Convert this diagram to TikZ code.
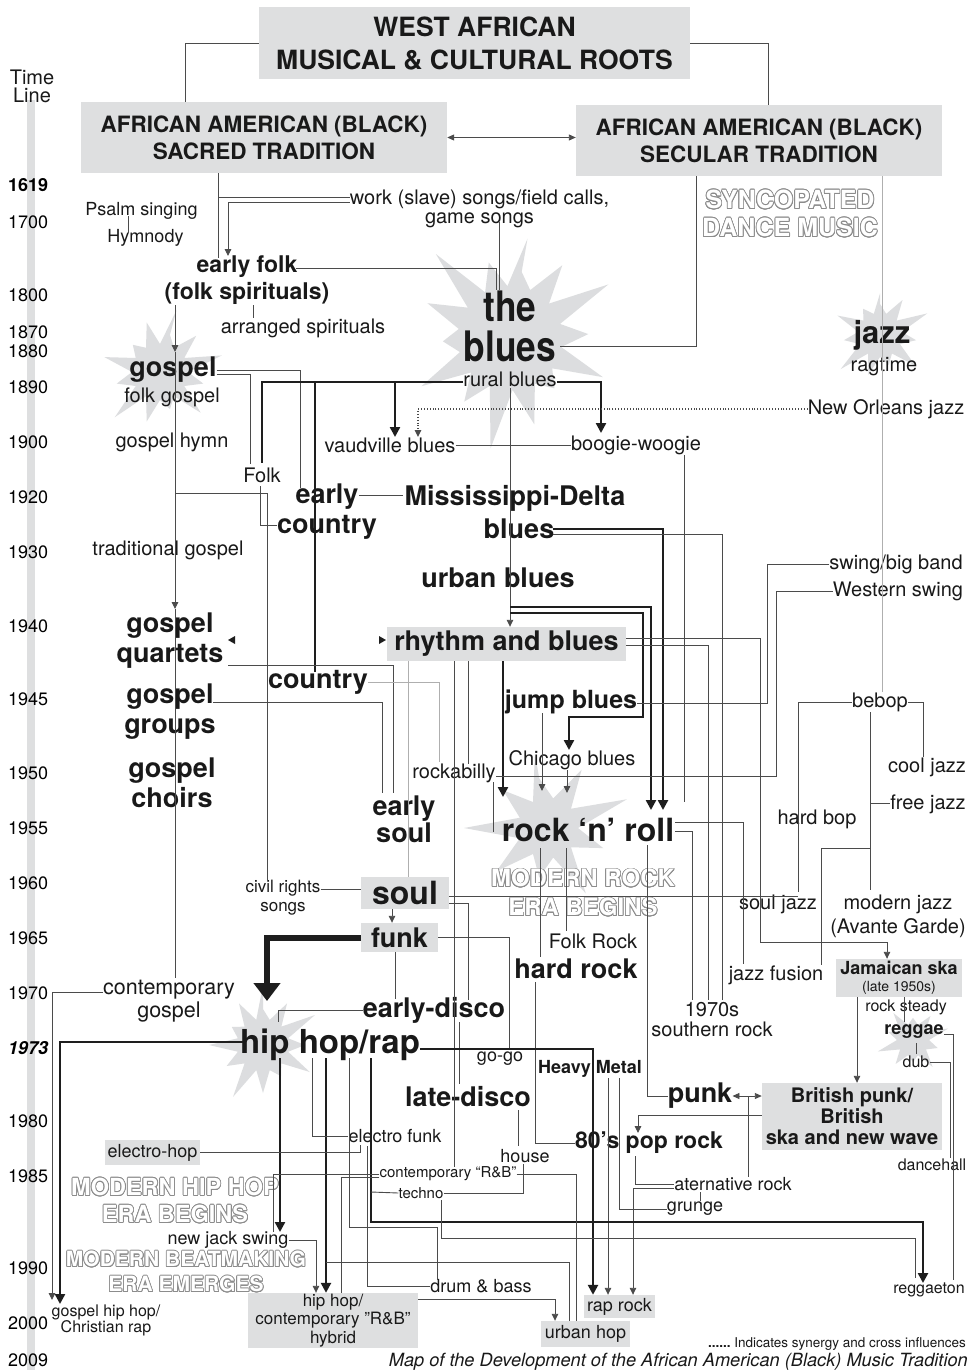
\documentclass[tikz,border=0pt]{standalone}
\usepackage{fontspec}
\setmainfont{TeX Gyre Heros}
\usepackage{contour}
\contourlength{0.8pt}
\usetikzlibrary{arrows.meta}
\definecolor{boxc}{RGB}{222,223,224}
\definecolor{burstc}{RGB}{220,221,223}
\definecolor{lnc}{RGB}{75,75,75}
\definecolor{lnl}{RGB}{175,175,175}
\definecolor{dk}{RGB}{30,30,30}
\newcommand\outtxt[1]{\contour{black!45}{\textcolor{white}{#1}}}
\newcommand\burst[6]{\fill[burstc] ({#1+0.6*#4*cos(#6)},{#2+0.6*#4*sin(#6)})
 \foreach \i in {1,...,#5}{ -- ({#1+#3*cos((\i-0.5)*360/#5+#6)},{#2+#3*sin((\i-0.5)*360/#5+#6)})
 -- ({#1+#4*(0.6+0.1*mod(\i*7,5))*cos(\i*360/#5+#6)},{#2+#4*(0.6+0.1*mod(\i*7,5))*sin(\i*360/#5+#6)})} -- cycle;}
\begin{document}
\begin{tikzpicture}[x=1pt,y=-1pt,
 tx/.style={inner sep=0pt, align=center, text=black!90},
 r20/.style={tx, font=\fontsize{20}{21}\selectfont},
 r18/.style={tx, font=\fontsize{18}{19}\selectfont},
 r16/.style={tx, font=\fontsize{16}{17}\selectfont},
 r15/.style={tx, font=\fontsize{15}{16}\selectfont},
 b27/.style={tx, font=\bfseries\fontsize{27}{30}\selectfont},
 b18/.style={tx, font=\bfseries\fontsize{18}{19}\selectfont},
 yr/.style={inner sep=0pt, anchor=west, font=\fontsize{18}{18}\selectfont},
 box/.style={fill=boxc, inner sep=0pt, align=center, text=black!90},
 cn/.style={draw=lnc, line width=0.9pt},
 cl/.style={draw=lnl, line width=0.8pt},
 ck/.style={draw=dk, line width=2.4pt},
 ar/.style={-{Triangle[length=7pt,width=6.5pt]}},
 ark/.style={-{Triangle[length=10pt,width=10pt]}},
 outl/.style={inner sep=0pt, align=center},
]
\fill[white] (0,0) rectangle (972,1370);
\useasboundingbox (0,0) rectangle (972,1370);
\fill[boxc] (27,100) rectangle (35,1370);

% starbursts
\burst{510}{338}{52}{112}{14}{-80}
\burst{880}{335}{22}{52}{11}{-90}
\burst{160}{372}{28}{64}{12}{-75}
\burst{548}{828}{30}{84}{9}{-100}
\burst{263}{1045}{26}{60}{12}{-90}
\burst{913}{1040}{16}{37}{10}{-90}

% boxes
\node[box, minimum width=431pt, minimum height=72pt, font=\bfseries\fontsize{26.5}{33}\selectfont] (roots) at (474.5,43) {WEST AFRICAN\\MUSICAL \& CULTURAL ROOTS};
\node[box, minimum width=366pt, minimum height=71pt, font=\bfseries\fontsize{22.5}{27}\selectfont] (sacred) at (264,137.5) {AFRICAN AMERICAN (BLACK)\\SACRED TRADITION};
\node[box, minimum width=366pt, minimum height=71pt, font=\bfseries\fontsize{22.5}{27}\selectfont] (secular) at (759,140.5) {AFRICAN AMERICAN (BLACK)\\SECULAR TRADITION};
\node[box, minimum width=239pt, minimum height=34pt, font=\bfseries\fontsize{27}{30}\selectfont] (rnb) at (506.5,644) {rhythm and blues};
\node[box, minimum width=88pt, minimum height=32pt, font=\bfseries\fontsize{32}{34}\selectfont] (soul) at (405,893) {soul};
\node[box, minimum width=77pt, minimum height=29pt, font=\bfseries\fontsize{27}{30}\selectfont] (funk) at (399.5,937.5) {funk};
\node[box, minimum width=126pt, minimum height=38pt, font=\fontsize{18}{17}\selectfont] (ska) at (899,978) {{\bfseries Jamaican ska}\\{\fontsize{14}{17}\selectfont (late 1950s)}};
\node[box, minimum width=180pt, minimum height=67pt, font=\bfseries\fontsize{20}{21}\selectfont] (british) at (852,1116.5) {British punk/\\British\\ska and new wave};
\node[box, minimum width=95pt, minimum height=25pt, font=\fontsize{18}{19}\selectfont] (electrohop) at (152.5,1152.5) {electro-hop};
\node[box, minimum width=170pt, minimum height=55pt, font=\fontsize{17}{18.5}\selectfont] (hybrid) at (333,1320.5) {hip hop/\\contemporary ”R\&B”\\hybrid};
\node[box, minimum width=71pt, minimum height=23pt, font=\fontsize{18}{19}\selectfont] (raprock) at (619.5,1306.5) {rap rock};
\node[box, minimum width=89pt, minimum height=26pt, font=\fontsize{18}{19}\selectfont] (urbanhop) at (585.5,1334) {urban hop};

% outlined texts
\node[outl, font=\bfseries\fontsize{25}{28}\selectfont] (sync) at (790,214) {\outtxt{SYNCOPATED}\\\outtxt{DANCE MUSIC}};
\node[outl, font=\bfseries\fontsize{24}{29}\selectfont] (modrock) at (583,893) {\outtxt{MODERN ROCK}\\\outtxt{ERA BEGINS}};
\node[outl, font=\bfseries\fontsize{23.5}{27}\selectfont] (modhip) at (175,1201) {\outtxt{MODERN HIP HOP}\\\outtxt{ERA BEGINS}};
\node[outl, font=\bfseries\fontsize{21}{25}\selectfont] (modbeat) at (186,1272) {\outtxt{MODERN BEATMAKING}\\\outtxt{ERA EMERGES}};

% timeline
\node[tx, font=\fontsize{20}{18}\selectfont] (timel) at (32,86) {Time\\Line};
\node[yr, font=\bfseries\fontsize{18}{18}\selectfont] (yr1619) at (8,185) {1619};
\foreach \ya/\yb in {222/1700,295/1800,332/1870,351/1880,387/1890,442/1900,497/1920,552/1930,626/1940,699/1945,773/1950,828/1955,883/1960,938/1965,993/1970,1121/1980,1176/1985,1268/1990,1323/2000,1360/2009}
  \node[yr] (yr\yb) at (8,\ya) {\yb};
\node[yr, font=\bfseries\itshape\fontsize{18}{18}\selectfont] (yr1973) at (8,1048) {1973};

% text nodes
\node[r18] (psalm) at (141.5,211) {Psalm singing};
\node[r18] (hymn) at (145.5,238) {Hymnody};
\node[tx, font=\fontsize{20}{19}\selectfont] (work) at (479.5,209) {work (slave) songs/field calls,\\game songs};
\node[tx, font=\bfseries\fontsize{23}{27}\selectfont] (earlyfolk) at (247,280) {early folk\\(folk spirituals)};
\node[r20] (arranged) at (303,328) {arranged spirituals};
\node[tx, font=\bfseries\fontsize{42}{40}\selectfont] (blues) at (510,326) {\scalebox{0.84}[1]{the}\\\scalebox{0.84}[1]{blues}};
\node[tx, font=\bfseries\fontsize{31}{32}\selectfont] (jazz) at (882,335) {jazz};
\node[r20] (ragtime) at (884,367) {ragtime};
\node[b27] (gospel) at (173,370) {gospel};
\node[r20] (folkgospel) at (172,397) {folk gospel};
\node[r20] (rural) at (510,379) {rural blues};
\node[r20] (neworleans) at (886,409) {New Orleans jazz};
\node[r20] (vaud) at (390,445) {vaudville blues};
\node[r20] (boogie) at (636,445) {boogie-woogie};
\node[r20] (gospelhymn) at (172,442) {gospel hymn};
\node[r20] (folk) at (262,475) {Folk};
\node[b27] (earlycountry) at (327,512) {early\\country};
\node[tx, font=\bfseries\fontsize{27}{33}\selectfont] (miss) at (515,512) {Mississippi-Delta\\\hspace*{8pt}blues};
\node[r20] (tradgospel) at (168,550) {traditional gospel};
\node[b27] (urban) at (498,578) {urban blues};
\node[r20] (swing) at (896,564) {swing/big band};
\node[r20] (western) at (898,591) {Western swing};
\node[b27] (quartets) at (170,641) {gospel\\quartets};
\node[b27] (groups) at (170,712) {gospel\\groups};
\node[b27] (choirs) at (172,783) {gospel\\choirs};
\node[b27] (country) at (318,682) {country};
\node[tx, font=\bfseries\fontsize{25}{27}\selectfont] (jump) at (571,702) {jump blues};
\node[r20] (bebop) at (880,702) {bebop};
\node[r20] (chicago) at (572,760) {Chicago blues};
\node[r20] (rockabilly) at (454,773) {rockabilly};
\node[r20] (coolj) at (927,767) {cool jazz};
\node[r20] (freej) at (928,804) {free jazz};
\node[r20] (hardbop) at (817,819) {hard bop};
\node[tx, font=\bfseries\fontsize{27}{27}\selectfont] (earlysoul) at (404,819) {early\\soul};
\node[tx, font=\bfseries\fontsize{32}{32}\selectfont] (rocknroll) at (588,830) {rock ‘n’ roll};
\node[tx, font=\fontsize{17}{19}\selectfont] (civil) at (283,898) {civil rights\\songs};
\node[r20] (souljazz) at (778,904) {soul jazz};
\node[tx, font=\fontsize{20}{24}\selectfont] (modernj) at (898,916) {modern jazz\\(Avante Garde)};
\node[r20] (folkrock) at (593,941) {Folk Rock};
\node[b27] (hardrock) at (576,969) {hard rock};
\node[r20] (jazzfusion) at (776,975) {jazz fusion};
\node[tx, font=\fontsize{21.5}{23}\selectfont] (contgospel) at (169,1001) {contemporary\\gospel};
\node[b27] (earlydisco) at (434,1010) {early-disco};
\node[tx, font=\fontsize{20}{20}\selectfont] (seventies) at (712,1020) {1970s\\southern rock};
\node[r16] (rocksteady) at (906,1007) {rock steady};
\node[b18] (reggae) at (914,1032) {reggae};
\node[tx, font=\bfseries\fontsize{33}{34}\selectfont] (hiphop) at (330,1045) {hip hop/rap};
\node[r18] (gogo) at (500,1059) {go-go};
\node[b18] (heavymetal) at (590,1069) {Heavy Metal};
\node[r16] (dub) at (916,1062) {dub};
\node[b27] (latedisco) at (468,1097) {late-disco};
\node[b27] (punk) at (700,1096) {punk};
\node[r18] (electrofunk) at (395,1136) {electro funk};
\node[tx, font=\bfseries\fontsize{23}{25}\selectfont] (poprock) at (649,1143) {80’s pop rock};
\node[r18] (house) at (525,1156) {house};
\node[r16] (dancehall) at (932,1165) {dancehall};
\node[r15] (contrnb) at (448,1174) {contemporary “R\&B”};
\node[r18] (altrock) at (733,1184) {aternative rock};
\node[r15] (techno) at (421,1193) {techno};
\node[r18] (grunge) at (695,1209) {grunge};
\node[r18] (newjack) at (228,1240) {new jack swing};
\node[r18] (drumbass) at (481,1286) {drum \& bass};
\node[r16] (reggaeton) at (929,1290) {reggaeton};
\node[tx, font=\fontsize{16}{16}\selectfont] (gospelhiphop) at (106,1320) {gospel hip hop/\\Christian rap};
\node[tx, font=\fontsize{13.5}{14}\selectfont, anchor=east] (legend) at (966,1344) {{\bfseries ......}\ Indicates synergy and cross influences};
\node[tx, font=\itshape\fontsize{18.2}{18}\selectfont, anchor=east] (caption) at (968,1362) {Map of the Development of the African American (Black) Music Tradition};

% small cross-influence marks
\fill[dk] (379,636) -- (386,640) -- (379,644) -- cycle;
\fill[dk] (235,636) -- (228,640) -- (235,644) -- cycle;

% ---------- connectors ----------
\draw[cn] (roots.west) -| (sacred.north -| 185,0);
\draw[cn] (roots.east) -| (secular.north -| 768,0);
\draw[cn,{Triangle[length=7pt,width=6pt]}-{Triangle[length=7pt,width=6pt]}] (sacred.east) -- (sacred.east -| secular.west);
\draw[cn] (sacred.south -| 218,0) -- (218,258);
\draw[cn] (218,197) -- (work.west |- 0,197);
\draw[cn,ar] (work.west |- 0,202) -| (228,256);
\draw[cn] (499,222) -- (499,290);
\draw[cn] (296,268) -| (496,290);
\draw[cn] (secular.south -| 696,0) |- (560,346);
\draw[cl] (secular.south -| 882,0) -- (bebop.north -| 882,0);
\draw[cn] (128,216) -- (128,233);
\draw[cn] (253,305) -- (253,318);
% gospel trunk
\draw[cn,ar] (175,305) -- (175,352);
\draw[cn,ar] (175,352) -- (175,609);
\draw[cn] (175,609) -- (175,978);
\draw[cn] (175,493) -| (267,880);
\draw[cn] (gospel.east) -| (300,488);
\draw[cn] (gospel.east |- 0,374) -| (250,464);
\draw[cn] (260,486) |- (277,525);
% rural blues
\draw[ck] (rural.west |- 0,382) -| (262,463);
\draw[ck] (315,382) -- (315,672);
\draw[ck,ark] (395,382) -- (395,437);
\draw[ck,ark] (rural.east |- 0,382) -| (601,433);
\draw[cn,ar] (510,388) -- (rnb.north -| 510,0);
\draw[cn,dotted,line width=1.4pt,ar] (neworleans.west) -| (418,437);
\draw[cn] (vaud.east) -- (boogie.west);
\draw[cn] (684,455) -- (684,802);
\draw[cn] (359,495) -- (403,495);
% Mississippi-Delta blues / urban blues
\draw[ck,ark] (553,529) -| (663,810);
\draw[cn] (553,534) -| (722,1000);
\draw[ck,ark] (510,607) -| (651,810);
\draw[ck,ark] (510,613) -| (643,717) -| (569,750);
% rhythm and blues
\draw[cn,ar] (rnb.east |- 0,638) -| (760,942) -| (ska.north -| 887,0);
\draw[cn] (rnb.east |- 0,645) -| (708,1000);
\draw[ck,ark] (rnb.south -| 503,0) -- (503,797);
\draw[cn] (rnb.south -| 468,0) -- (468,764);
\draw[cn] (rnb.south -| 454,0) -- (454,1167);
\draw[cl] (rnb.south -| 408,0) -- (soul.north -| 408,0);
\draw[cn] (228,665) -| (393,793);
\draw[cn] (213,702) -| (382,793);
\draw[cl] (country.east) -| (439,762);
% swing
\draw[cn] (swing.west) -| (767,703) -- (jump.east |- 0,703);
\draw[cn] (western.west) -| (776,776) -- (rockabilly.east |- 0,776);
\draw[cn,ar] (542,713) -- (542,791);
\draw[cn,ar] (567,770) -- (567,793);
\draw[cn] (493,782) -- (493,832);
% jazz
\draw[cn] (bebop.west) -| (798,892);
\draw[cn] (bebop.east) -| (923,757);
\draw[cn] (870,712) -- (870,890);
\draw[cn] (870,803) -- (freej.west |- 0,803);
\draw[cn] (870,848) -| (821,965);
% soul / funk
\draw[cn] (soul.east |- 0,896) -- (798,896);
\draw[cn] (soul.east |- 0,903) -| (468,1000);
\draw[cn,ar] (soul.south -| 392,0) -- (funk.north -| 392,0);
\draw[cn] (civil.east |- 0,889) -- (soul.west |- 0,889);
\draw[line width=6pt, draw=dk, -{Triangle[length=18pt,width=26pt]}] (funk.west) -| (267,1001);
\draw[cn] (funk.east) -| (509,1050);
\draw[cn] (funk.south -| 395,0) -- (395,999);
\draw[cn] (earlydisco.west) -| (278,1022);
\draw[cn] (459,1022) -- (459,1084);
% rock n roll
\draw[cn] (675,822) -| (743,964);
\draw[cn] (675,831) -| (692,1000);
\draw[cn] (540,848) -- (540,957);
\draw[cn] (566,848) -- (566,931);
\draw[cn] (647,845) |- (punk.west);
\draw[cn] (535,982) |- (poprock.west);
\draw[cn,ar] (608,1078) -- (raprock.north -| 608,0);
\draw[cn] (619,1078) |- (grunge.west);
\draw[cn,{Triangle[length=7pt,width=6pt]}-{Triangle[length=7pt,width=6pt]}] (punk.east) -- (punk.east -| british.west);
\draw[cn] (748,1097) -- (748,1177);
\draw[cn,ar] (british.west |- 0,1115) -| (638,1133);
\draw[cn] (635,1156) |- (altrock.west);
\draw[cn,ar] (altrock.west |- 0,1188) -| (raprock.north -| 633,0);
\draw[cn] (700,1192) -- (700,1201);
% reggae family
\draw[cn,ar] (ska.south -| 857,0) -- (british.north -| 857,0);
\draw[cn] (ska.south -| 904,0) -- (904,1022);
\draw[cn] (916,1043) -- (916,1054);
\draw[cn] (reggae.east |- 0,1034) -| (953,1280);
\draw[cn] (dub.east) -| (950,1158);
% hip hop
\draw[ck,ark] (hiphop.east |- 0,1049) -| (raprock.north -| 593,0);
\draw[ck,ark] (243,1042) -| (60,1304);
\draw[cn,ar] (contgospel.west |- 0,992) -| (52,1300);
\draw[ck,ark] (280,1058) -- (280,1232);
\draw[ck,ark] (326,1058) -- (hybrid.north -| 326,0);
\draw[cn] (312,1058) |- (electrofunk.west);
\draw[cn] (349,1058) |- (437,1227) -- (437,1280);
\draw[ck,ark] (371,1058) |- (923,1222) -- (923,1283);
\draw[cn] (367,1146) |- (drumbass.west);
\draw[cn] (360,1145) |- (electrohop.east);
\draw[cn] (contrnb.west) -| (273,1232);
\draw[cn] (contrnb.west |- 0,1177) -| (hybrid.north -| 341,0);
\draw[cn] (371,1192) -- (techno.west);
\draw[cn] (techno.east) -| (523,1164);
\draw[cn] (518,1110) -- (518,1146);
\draw[cn] (441,1200) |- (915,1238) -- (915,1278);
\draw[cn] (contrnb.east) -| (urbanhop.north -| 576,0);
\draw[cn] (326,1262) -| (urbanhop.north -| 569,0);
\draw[cn,ar] (hybrid.east |- 0,1299) -| (urbanhop.north -| 555,0);
\draw[cn,ar] (newjack.east) -| (hybrid.north -| 316,0);
\end{tikzpicture}
\end{document}
